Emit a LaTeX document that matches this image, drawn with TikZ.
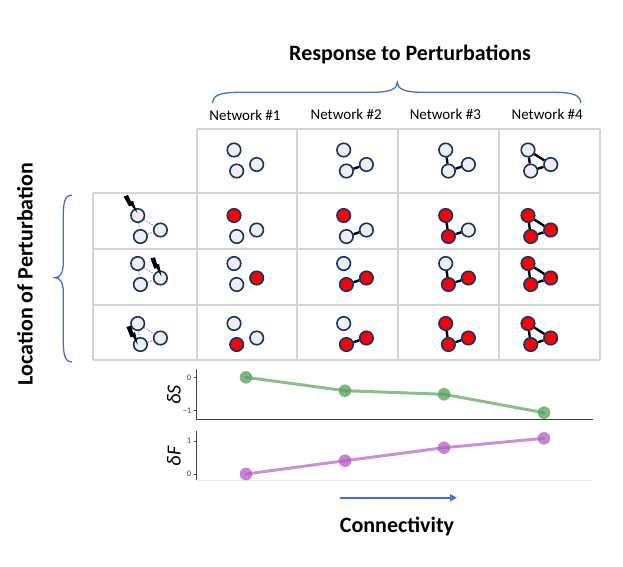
\documentclass[tikz,border=0pt]{standalone}
\usepackage{fontspec}
\setmainfont{Carlito}
\usetikzlibrary{arrows.meta,calc}
\definecolor{navy}{HTML}{17326B}
\definecolor{nodegray}{HTML}{EFEFEF}
\definecolor{hitred}{HTML}{FF0000}
\definecolor{gridgray}{HTML}{D4D4D4}
\definecolor{braceblue}{HTML}{4472C4}
\definecolor{sgreen}{HTML}{55A055}
\definecolor{fpurple}{HTML}{B55CC6}
\definecolor{axisgray}{HTML}{454545}
\newcommand\netcell[6]{%
  \node[netnode,fill=#4] (#1A) at (#2,#3) {};
  \node[netnode,fill=#5] (#1B) at ([shift={(2.7,21)}]#2,#3) {};
  \node[netnode,fill=#6] (#1C) at ([shift={(22.7,14.5)}]#2,#3) {};
}
\tikzset{
  netnode/.style={circle,draw=navy,line width=1.6pt,minimum size=13.5pt,inner sep=0pt},
  netedge/.style={black,line width=2.4pt},
  netdot/.style={gray!75,line width=1.3pt,dash pattern=on 1.3pt off 1.6pt},
  gridline/.style={gridgray,line width=1.6pt},
  bracestyle/.style={braceblue,line width=1.3pt},
  bolt/.pic={\fill[black] (-2.2,0) -- (2.4,0.8) -- (1.4,8) -- (3.4,8.6) -- (0.4,21) -- (-0.6,11.5) -- (-2.9,11) -- cycle;},
  axisline/.style={axisgray,line width=0.8pt},
  ticklab/.style={font=\fontsize{8.5}{8.5}\selectfont,text=axisgray,anchor=east,inner sep=0pt},
  bigbold/.style={font=\fontsize{22}{22}\selectfont\bfseries},
  netlab/.style={font=\fontsize{15}{15}\selectfont},
  plotlab/.style={font=\fontsize{20}{20}\selectfont\itshape,rotate=90},
  sline/.style={sgreen!85,opacity=0.8,line width=3pt,line cap=round},
  spt/.style={fill=sgreen,fill opacity=0.75},
  fline/.style={fpurple!85,opacity=0.8,line width=3pt,line cap=round},
  fpt/.style={fill=fpurple,fill opacity=0.75},
}
\begin{document}
\begin{tikzpicture}[x=1pt,y=-1pt]
\useasboundingbox (0,0) rectangle (623,566);
\fill[white] (0,0) rectangle (623,566);

% titles
\node[bigbold] (title) at (410,54.5) {Response to Perturbations};
\node[bigbold,rotate=90] (loclab) at (25,274) {Location of Perturbation};
\node[bigbold] (conn) at (397,526.5) {Connectivity};

% top brace
\draw[bracestyle] (212.7,103.3) .. controls (212.7,95) and (220,92.3) .. (240,92.3) -- (372,92.3)
  .. controls (390,92.3) and (397.3,89) .. (397.3,82.3)
  .. controls (397.3,89) and (405,92.3) .. (423,92.3) -- (553,92.3)
  .. controls (573,92.3) and (580.7,95) .. (580.7,103.3);
% left brace
\draw[bracestyle] (72,195) .. controls (66,195) and (63.3,200) .. (63.3,215) -- (63.3,262)
  .. controls (63.3,273) and (60,277.7) .. (55,277.7)
  .. controls (60,277.7) and (63.3,282) .. (63.3,293) -- (63.3,342)
  .. controls (63.3,357) and (66,362) .. (72,362);

% column labels
\node[netlab] (lab1) at (245,115.5) {Network \#1};
\node[netlab] (lab2) at (346.2,114.5) {Network \#2};
\node[netlab] (lab3) at (445.3,114.5) {Network \#3};
\node[netlab] (lab4) at (547.2,114.5) {Network \#4};

% grid
\draw[gridline] (197,129) -- (600,129);
\foreach \yy in {193,249,305,360} \draw[gridline] (93,\yy) -- (600,\yy);
\draw[gridline] (93,193) -- (93,360);
\foreach \xx in {197,297,398,499,600} \draw[gridline] (\xx,129) -- (\xx,360);

% header row networks
\netcell{c1r0}{234}{150}{nodegray}{nodegray}{nodegray}
\netcell{c2r0}{343.7}{150}{nodegray}{nodegray}{nodegray}
\netcell{c3r0}{445.7}{150}{nodegray}{nodegray}{nodegray}
\netcell{c4r0}{528}{150}{nodegray}{nodegray}{nodegray}

% perturbation column
\netcell{c0r1}{137.7}{215.5}{nodegray}{nodegray}{nodegray}
\netcell{c0r2}{137.7}{263.5}{nodegray}{nodegray}{nodegray}
\netcell{c0r3}{137.7}{323.5}{nodegray}{nodegray}{nodegray}

% network 1
\netcell{c1r1}{234}{215.5}{hitred}{nodegray}{nodegray}
\netcell{c1r2}{234}{263.5}{nodegray}{nodegray}{hitred}
\netcell{c1r3}{234}{323.5}{nodegray}{hitred}{nodegray}
% network 2
\netcell{c2r1}{343.7}{215.5}{hitred}{nodegray}{nodegray}
\netcell{c2r2}{343.7}{263.5}{nodegray}{hitred}{hitred}
\netcell{c2r3}{343.7}{323.5}{nodegray}{hitred}{hitred}
% network 3
\netcell{c3r1}{445.7}{215.5}{hitred}{hitred}{nodegray}
\netcell{c3r2}{445.7}{263.5}{nodegray}{hitred}{hitred}
\netcell{c3r3}{445.7}{323.5}{hitred}{hitred}{hitred}
% network 4
\netcell{c4r1}{528}{215.5}{hitred}{hitred}{hitred}
\netcell{c4r2}{528}{263.5}{hitred}{hitred}{hitred}
\netcell{c4r3}{528}{323.5}{hitred}{hitred}{hitred}

% edges
\foreach \r in {1,2,3} {
  \draw[netdot] (c0r\r A) -- (c0r\r B);
  \draw[netdot] (c0r\r B) -- (c0r\r C);
  \draw[netdot] (c0r\r A) -- (c0r\r C);
}
\foreach \r in {0,1,2,3} {
  \draw[netedge] (c2r\r B) -- (c2r\r C);
  \draw[netedge] (c3r\r A) -- (c3r\r B);
  \draw[netedge] (c3r\r B) -- (c3r\r C);
  \draw[netedge] (c4r\r A) -- (c4r\r B);
  \draw[netedge] (c4r\r B) -- (c4r\r C);
  \draw[netedge] (c4r\r A) -- (c4r\r C);
}

% lightning bolts
\pic[rotate=33] at (125.5,195.5) {bolt};
\pic[rotate=24] at (152.5,257.5) {bolt};
\pic[rotate=25] at (128.5,326) {bolt};

% dS plot
\draw[axisline] (196.7,369) -- (196.7,419) -- (593,419);
\draw[axisline] (193.7,377.3) -- (196.7,377.3);
\draw[axisline] (193.7,410.3) -- (196.7,410.3);
\node[ticklab] (s0) at (191.5,377.3) {0};
\node[ticklab] (s1) at (191.5,410.3) {−1};
\node[plotlab] (dS) at (174,395) {δS};
\draw[sline] (246,377.3) -- (345,390.7) -- (444,394.3) -- (544,412.7);
\foreach \p in {(246,377.3),(345,390.7),(444,394.3),(544,412.7)} \fill[spt] \p circle (6.3);

% dF plot
\draw[axisline] (196.7,431) -- (196.7,480);
\draw[gridgray!50,line width=0.8pt] (196.7,480) -- (593,480);
\draw[axisline] (193.7,441) -- (196.7,441);
\draw[axisline] (193.7,474) -- (196.7,474);
\node[ticklab] (f1) at (191.5,441) {1};
\node[ticklab] (f0) at (191.5,474) {0};
\node[plotlab] (dF) at (174,456.5) {δF};
\draw[fline] (246,474) -- (345,460.7) -- (444,447.7) -- (544,438.3);
\foreach \p in {(246,474),(345,460.7),(444,447.7),(544,438.3)} \fill[fpt] \p circle (6.3);

% connectivity arrow
\coordinate (arrS) at (340,497.7);
\coordinate (arrE) at (457,497.7);
\draw[braceblue,line width=2pt,-{Triangle[length=7pt,width=7pt]}] (arrS) -- (arrE);
\end{tikzpicture}
\end{document}
